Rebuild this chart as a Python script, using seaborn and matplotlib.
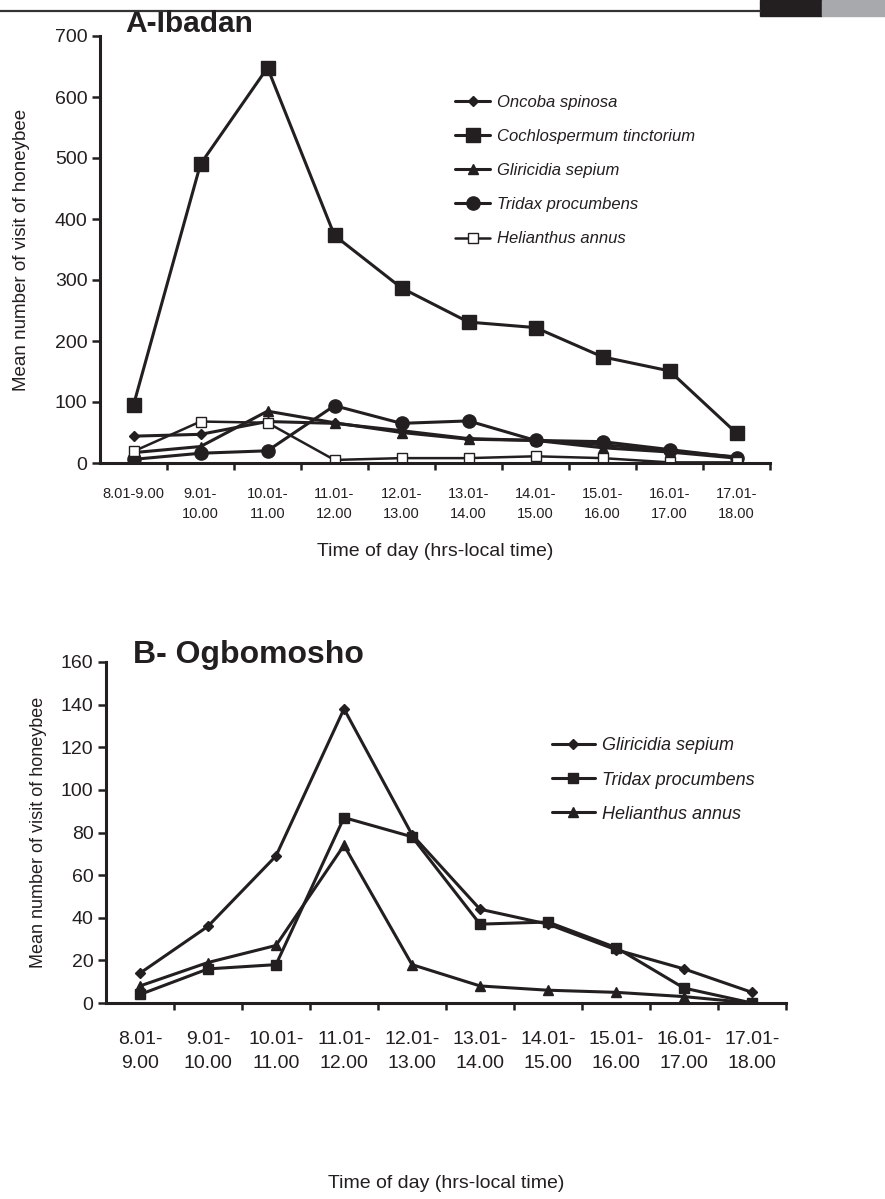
import numpy as np
import matplotlib.pyplot as plt
import seaborn as sns
from matplotlib.lines import Line2D
from matplotlib.patches import Rectangle

# time slots (x categories)
times_a = ["8.01-9.00", "9.01-\n10.00", "10.01-\n11.00", "11.01-\n12.00", "12.01-\n13.00",
           "13.01-\n14.00", "14.01-\n15.00", "15.01-\n16.00", "16.01-\n17.00", "17.01-\n18.00"]
times_b = ["8.01-\n9.00", "9.01-\n10.00", "10.01-\n11.00", "11.01-\n12.00", "12.01-\n13.00",
           "13.01-\n14.00", "14.01-\n15.00", "15.01-\n16.00", "16.01-\n17.00", "17.01-\n18.00"]

# A - Ibadan, mean visits per slot
ibadan_oncoba = [44, 47, 68, 65, 53, 40, 37, 30, 20, 10]
ibadan_cochlospermum = [95, 490, 648, 373, 287, 231, 222, 174, 151, 49]
ibadan_gliricidia = [17, 27, 85, 66, 50, 39, 37, 25, 18, 8]
ibadan_tridax = [6, 16, 20, 94, 65, 69, 37, 35, 22, 9]
ibadan_helianthus = [19, 68, 66, 5, 8, 8, 11, 8, 1, 1]

# B - Ogbomosho
ogbo_gliricidia = [14, 36, 69, 138, 79, 44, 37, 25, 16, 5]
ogbo_tridax = [4, 16, 18, 87, 78, 37, 38, 26, 7, 0]
ogbo_helianthus = [8, 19, 27, 74, 18, 8, 6, 5, 3, 0]

INK = "#231f20"

sns.set_theme(style="ticks")
plt.rcParams["font.family"] = ["Liberation Sans", "DejaVu Sans"]
plt.rcParams["axes.edgecolor"] = INK
plt.rcParams["text.color"] = INK
plt.rcParams["xtick.color"] = INK
plt.rcParams["ytick.color"] = INK
plt.rcParams["axes.labelcolor"] = INK

fig = plt.figure(figsize=(8.85, 11.99), dpi=100)
W, H = 885, 1199


def px_axes(left, top, right, bottom):
    return fig.add_axes([left / W, 1 - bottom / H, (right - left) / W, (bottom - top) / H])


def draw(ax, values, marker, size, face=INK, lw=2.2):
    x = np.arange(len(values))
    sns.lineplot(x=x, y=values, ax=ax, color=INK, lw=lw, marker=marker, markersize=size,
                 markerfacecolor=face, markeredgecolor=INK, markeredgewidth=1.0)
    return Line2D([], [], color=INK, lw=lw, marker=marker, markersize=size,
                  markerfacecolor=face, markeredgecolor=INK, markeredgewidth=1.0)


def style_axes(ax, labels, ymax, ystep, xfs, pad):
    ax.set_xlim(-0.5, len(labels) - 0.5)
    ax.set_ylim(0, ymax)
    ax.set_yticks(np.arange(0, ymax + 1, ystep))
    ax.set_xticks(np.arange(len(labels)))
    ax.set_xticklabels(labels)
    ax.set_xticks(np.arange(0.5, len(labels), 1), minor=True)
    ax.tick_params(axis="x", which="major", length=0, pad=pad, labelsize=xfs)
    ax.tick_params(axis="x", which="minor", length=5, width=1.8, direction="out")
    ax.tick_params(axis="y", length=6, width=1.8, labelsize=14, pad=3)
    for lbl in ax.get_xticklabels():
        lbl.set_linespacing(1.55)
    for s in ["left", "bottom"]:
        ax.spines[s].set_linewidth(2.2)
    sns.despine(ax=ax)


# ---- A - Ibadan ----
ax_a = px_axes(100, 36, 770, 463)
h1 = draw(ax_a, ibadan_oncoba, "D", 5)
h2 = draw(ax_a, ibadan_cochlospermum, "s", 10)
h3 = draw(ax_a, ibadan_gliricidia, "^", 7)
h4 = draw(ax_a, ibadan_tridax, "o", 9.5)
h5 = draw(ax_a, ibadan_helianthus, "s", 7, face="white", lw=1.8)
style_axes(ax_a, times_a, 700, 100, 10.5, 17)
ax_a.set_ylabel("Mean number of visit of honeybee", fontsize=13.5, labelpad=18)
ax_a.set_xlabel("Time of day (hrs-local time)", fontsize=14, labelpad=16)
ax_a.legend([h1, h2, h3, h4, h5],
            ["Oncoba spinosa", "Cochlospermum tinctorium", "Gliricidia sepium",
             "Tridax procumbens", "Helianthus annus"],
            loc="upper left", bbox_to_anchor=(0.52, 0.878), frameon=False,
            handlelength=2.1, handletextpad=0.4, labelspacing=1.15, borderaxespad=0,
            prop={"style": "italic", "size": 12})
fig.text(125 / W, 1 - 32 / H, "A-Ibadan", fontsize=21.5, fontweight="bold", ha="left", va="baseline")

# ---- B - Ogbomosho ----
ax_b = px_axes(106, 662, 786, 1003)
g1 = draw(ax_b, ogbo_gliricidia, "D", 5)
g2 = draw(ax_b, ogbo_tridax, "s", 6.5)
g3 = draw(ax_b, ogbo_helianthus, "^", 6.5)
style_axes(ax_b, times_b, 160, 20, 14, 20)
ax_b.set_ylabel("Mean number of visit of honeybee", fontsize=13, labelpad=10)
ax_b.set_xlabel("Time of day (hrs-local time)", fontsize=14, labelpad=74)
ax_b.legend([g1, g2, g3], ["Gliricidia sepium", "Tridax procumbens", "Helianthus annus"],
            loc="upper left", bbox_to_anchor=(0.645, 0.80), frameon=False,
            handlelength=2.4, handletextpad=0.4, labelspacing=0.95, borderaxespad=0,
            prop={"style": "italic", "size": 13})
fig.text(133 / W, 1 - 663 / H, "B- Ogbomosho", fontsize=23, fontweight="bold", ha="left", va="baseline")

# journal page header strip
fig.add_artist(Line2D([0, 760 / W], [1 - 11 / H, 1 - 11 / H], transform=fig.transFigure, color="#333333", lw=1.6))
fig.add_artist(Rectangle((760 / W, 1 - 16 / H), 62 / W, 16 / H, transform=fig.transFigure, color="#231f20"))
fig.add_artist(Rectangle((822 / W, 1 - 16 / H), 63 / W, 16 / H, transform=fig.transFigure, color="#a7a9ac"))

fig.savefig("out.png", dpi=100)
